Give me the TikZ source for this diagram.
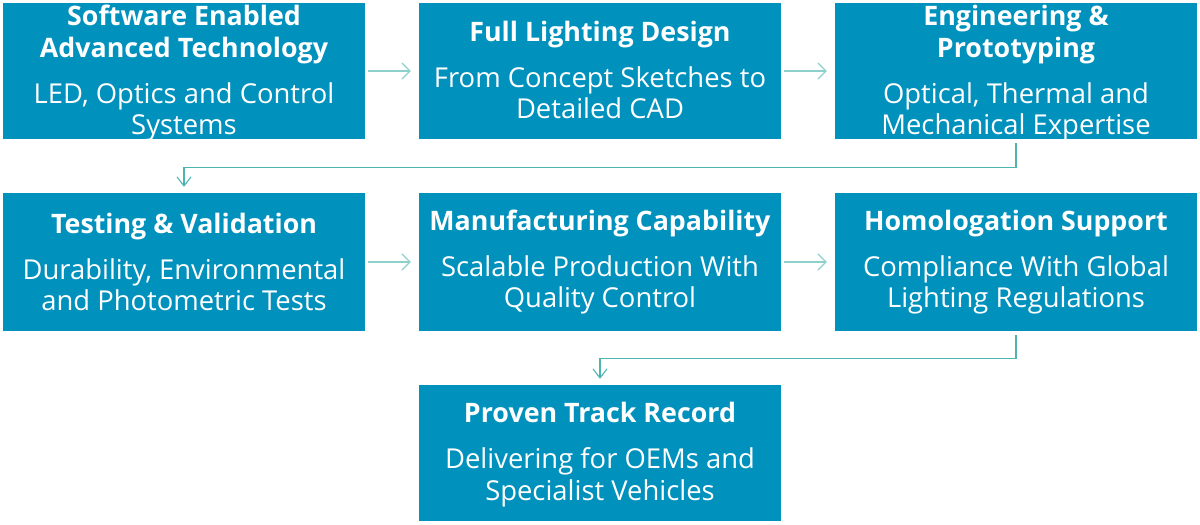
\documentclass[tikz,border=0pt]{standalone}
\usepackage{fontspec}
\setmainfont{Open Sans}
\usetikzlibrary{arrows.meta}
\definecolor{boxblue}{HTML}{0091BD}
\definecolor{arrowteal}{HTML}{4DB3B3}
\definecolor{arrowlight}{HTML}{8ED0CC}
\newcommand{\ttlfont}{\fontsize{26.8}{31.5}\selectfont\bfseries}
\begin{document}
\begin{tikzpicture}[x=1pt,y=-1pt,
  stepbox/.style={fill=boxblue, minimum width=362pt, inner sep=0pt},
  steptext/.style={text=white, inner sep=0pt, align=center,
    font=\fontsize{27.4}{31.5}\selectfont},
  harrow/.style={draw=arrowlight, line width=1.6pt, shorten <=3pt, shorten >=8pt,
    -{Straight Barb[length=8pt, width=16pt, line width=1.2pt]}},
  earrow/.style={draw=arrowteal, line width=1.3pt, shorten <=4pt, shorten >=6pt,
    -{Straight Barb[length=9pt, width=14pt, line width=1.1pt]}}
]
\useasboundingbox (0,0) rectangle (1200,525);
\node[stepbox, minimum height=136pt] (b1) at (184,71) {};
\node[stepbox, minimum height=136pt] (b2) at (600,71) {};
\node[stepbox, minimum height=136pt] (b3) at (1016,71) {};
\node[stepbox, minimum height=138pt] (b4) at (184,262) {};
\node[stepbox, minimum height=138pt] (b5) at (600,262) {};
\node[stepbox, minimum height=138pt] (b6) at (1016,262) {};
\node[stepbox, minimum height=136pt] (b7) at (600,453) {};
\node[steptext] (t1) at ([yshift=-2.5pt]b1.center)
  {{\ttlfont Software Enabled}\\{\ttlfont Advanced Technology}\\[14.5pt]LED, Optics and Control\\Systems};
\node[steptext] (t2) at ([yshift=1pt]b2.center)
  {{\ttlfont Full Lighting Design}\\[14.5pt]From Concept Sketches to\\Detailed CAD};
\node[steptext] (t3) at ([yshift=-2.5pt]b3.center)
  {{\ttlfont Engineering \&}\\{\ttlfont Prototyping}\\[14.5pt]Optical, Thermal and\\Mechanical Expertise};
\node[steptext] (t4) at (b4.center)
  {{\ttlfont Testing \& Validation}\\[14.5pt]Durability, Environmental\\and Photometric Tests};
\node[steptext] (t5) at (b5.center)
  {{\ttlfont Manufacturing Capability}\\[14.5pt]Scalable Production With\\Quality Control};
\node[steptext] (t6) at (b6.center)
  {{\ttlfont Homologation Support}\\[14.5pt]Compliance With Global\\Lighting Regulations};
\node[steptext] (t7) at ([yshift=-1.5pt]b7.center)
  {{\ttlfont Proven Track Record}\\[14.5pt]Delivering for OEMs and\\Specialist Vehicles};
\draw[harrow] (b1) -- (b2);
\draw[harrow] (b2) -- (b3);
\draw[harrow] (b4) -- (b5);
\draw[harrow] (b5) -- (b6);
\draw[earrow] (b3.south) -- ++(0,28) -| (b4.north);
\draw[earrow] (b6.south) -- ++(0,27) -| (b7.north);
\end{tikzpicture}
\end{document}
